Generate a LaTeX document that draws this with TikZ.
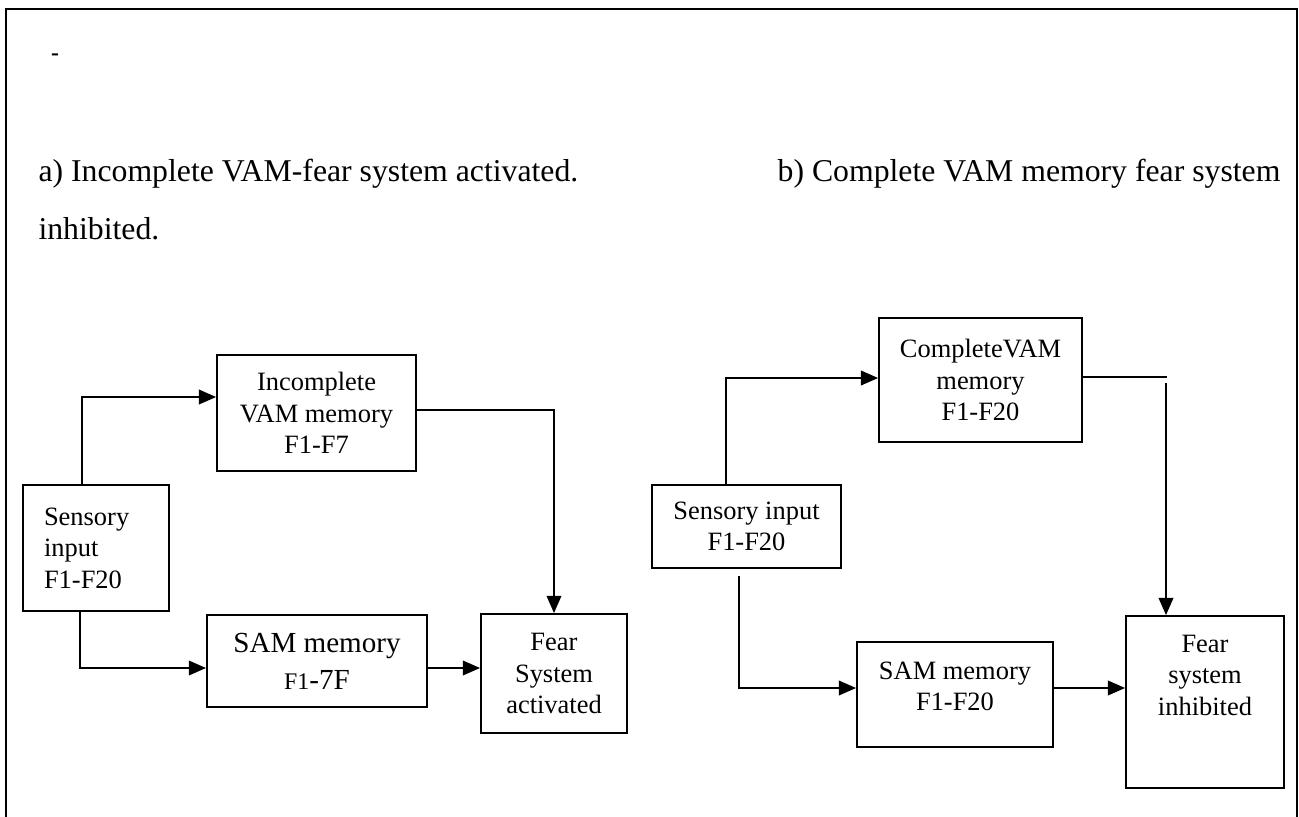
\documentclass[tikz,border=0pt]{standalone}
\usepackage{fontspec}
\setmainfont{Liberation Serif}
\usepackage{tikz}
\usetikzlibrary{positioning}
\usetikzlibrary{arrows.meta}

\begin{document}
\begin{tikzpicture}[x=0.378pt,y=-0.378pt,
  box/.style={rectangle,draw,line width=0.7pt,align=center,inner sep=0pt,
    font=\fontsize{10}{11.9}\selectfont},
  caption/.style={inner sep=0pt,font=\fontsize{12}{14}\selectfont},
  arr/.style={-{Triangle[length=6.5pt,width=5.5pt]},line width=0.75pt},
  conn/.style={line width=0.75pt}
]
  \useasboundingbox (0,0) rectangle (1299,817);
  \draw[line width=0.8pt] (6,817) -- (6,9) -- (1297,9) -- (1297,817);

  \node[inner sep=0pt,font=\fontsize{9}{10}\selectfont\bfseries] (dash) at (55,57) {-};
  \node[caption,anchor=base west] (capa) at (38,181)
    {a) Incomplete VAM-fear system activated.};
  \node[caption,anchor=base east] (capb) at (1281,181)
    {b) Complete VAM memory fear system};
  \node[caption,anchor=base west] (capc) at (38,239) {inhibited.};

  \node[box,align=left,text width=39.3pt,inner xsep=7.9pt,minimum height=47.6pt]
    (sens1) at (96,548) {Sensory\\input\\F1-F20};
  \node[box,minimum width=75.2pt,minimum height=43.8pt] (ivam) at (316.5,413)
    {Incomplete\\VAM memory\\F1-F7};
  \node[box,minimum width=83.2pt,minimum height=34.8pt,
    font=\fontsize{11}{14}\selectfont] (sam1) at (317,661)
    {SAM memory\\{\fontsize{9}{10}\selectfont F1}-7F};
  \node[box,minimum width=55.2pt,minimum height=45pt] (fear1) at (554,673.5)
    {Fear\\System\\activated};

  \node[box,minimum width=71.4pt,minimum height=31.4pt] (sens2) at (746.5,526.5)
    {Sensory input\\F1-F20};
  \node[box,minimum width=76.7pt,minimum height=46.9pt] (cvam) at (980.5,380)
    {CompleteVAM\\memory\\F1-F20};
  \node[box,minimum width=74.1pt,minimum height=39.7pt] (sam2) at (955,694.5)
    {SAM memory\\F1-F20\\[-5.5pt]\mbox{}};
  \node[box,minimum width=59.7pt,minimum height=65pt] (fear2) at (1205,702)
    {Fear\\system\\inhibited\\[8.5pt]\mbox{}};

  \coordinate (gap) at (739,576);
  \coordinate (bend) at (1166,383);

  \draw[arr] (sens1.north -| 82,0) |- (ivam.west |- 0,397);
  \draw[arr] (ivam.east |- 0,410) -| (fear1.north);
  \draw[arr] (sens1.south -| 80,0) |- (sam1.west |- 0,668);
  \draw[arr] (sam1.east |- 0,668) -- (fear1.west |- 0,668);

  \draw[arr] (sens2.north -| 726,0) |- (cvam.west |- 0,378);
  \draw[conn] (cvam.east |- 0,377) -- (1167,377);
  \draw[arr] (bend) -- (bend |- fear2.north);
  \draw[arr] (gap) |- (sam2.west |- 0,688);
  \draw[arr] (sam2.east |- 0,688) -- (fear2.west |- 0,688);
\end{tikzpicture}
\end{document}
